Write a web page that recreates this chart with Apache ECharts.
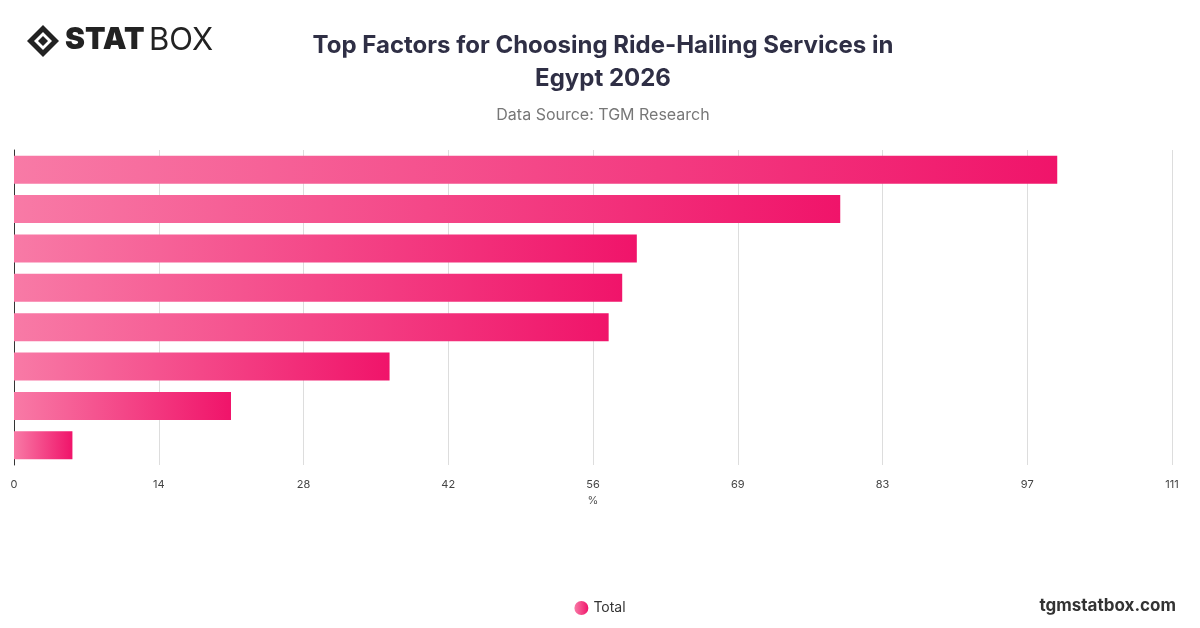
<!DOCTYPE html>
<html><head><meta charset="utf-8">
<script src="https://cdn.jsdelivr.net/npm/echarts@6/dist/echarts.min.js"></script>
<style>html,body{margin:0;padding:0;background:#fff}#c{width:1200px;height:628px}</style>
</head><body><div id="c"></div>
<script>
const categories = ["Price / affordability","Convenience","Safety","Availability","Speed of service","Driver quality","Payment options","Other"];
const values = [100, 79.2, 59.7, 58.3, 57, 36, 20.8, 5.6];
const seriesName = "Total";
const chart = echarts.init(document.getElementById('c'));
chart.setOption({
  backgroundColor:'#fff',
  title:{text:'Top Factors for Choosing Ride-Hailing Services in\nEgypt 2026',subtext:'Data Source: TGM Research',left:598,top:24,textAlign:'center',
    textStyle:{fontFamily:'Inter',fontSize:24,fontWeight:'bold',color:'#2f2f45',lineHeight:33},
    subtextStyle:{fontFamily:'Inter',fontSize:16,color:'#777',lineHeight:20},itemGap:10},
  graphic:[
    {type:'group',left:27,top:25,children:[
      {type:'polygon',shape:{points:[[16,0],[32,16],[16,32],[0,16]]},style:{fill:'#222'}},
      {type:'polygon',shape:{points:[[16,7],[25,16],[16,25],[7,16]]},style:{fill:'#fff'}},
      {type:'polygon',shape:{points:[[16,11],[21,16],[16,21],[11,16]]},style:{fill:'#222'}},
      {type:'text',left:38,top:0,style:{text:'STAT',font:'900 30px Inter',fill:'#222'}},
      {type:'text',left:122,top:0,style:{text:'BOX',font:'400 31px Inter',fill:'#222'}}
    ]},
    {type:'text',right:24,bottom:14,style:{text:'tgmstatbox.com',font:'bold 17px Inter',fill:'#333'}}
  ],
  legend:{bottom:8,left:'center',icon:'circle',itemWidth:14,itemHeight:14,textStyle:{fontFamily:'Inter',fontSize:14,color:'#333'},data:[seriesName]},
  grid:{left:14,right:28,top:150,bottom:163,containLabel:false},
  xAxis:{type:'value',min:0,max:111,interval:13.875,name:'%',nameLocation:'middle',nameGap:22,
    nameTextStyle:{fontFamily:'Inter',fontSize:11,color:'#555'},
    axisLabel:{fontFamily:'Inter',fontSize:11,color:'#444',margin:14,formatter:v=>Math.round(v)},
    splitLine:{lineStyle:{color:'#ddd'}},axisLine:{show:false},axisTick:{show:false}},
  yAxis:{type:'category',data:categories,inverse:true,axisLabel:{show:false},axisTick:{show:false},
    axisLine:{show:true,lineStyle:{color:'#333'}}},
  series:[{name:seriesName,type:'bar',data:values,barWidth:28,
    itemStyle:{color:new echarts.graphic.LinearGradient(0,0,1,0,[{offset:0,color:'#f87aa6'},{offset:1,color:'#f0146a'}])}}]
});
</script></body></html>
